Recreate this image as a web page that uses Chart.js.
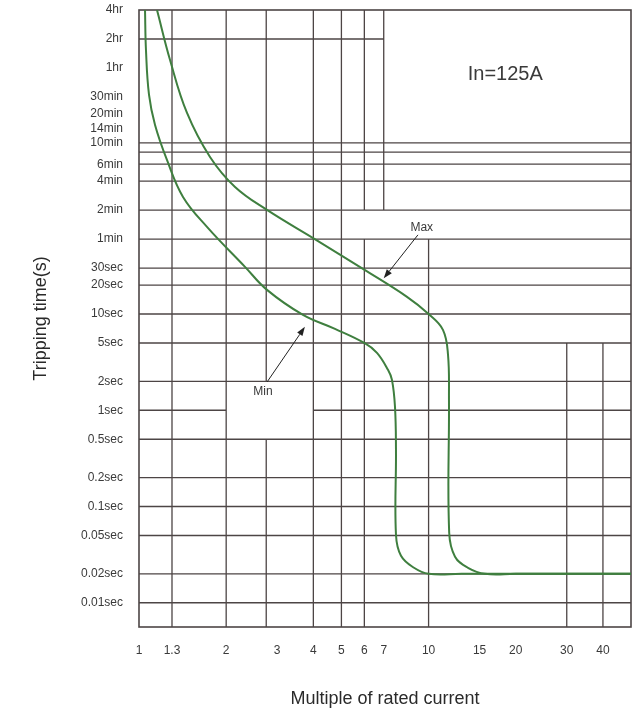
<!DOCTYPE html>
<html>
<head>
<meta charset="utf-8">
<script src="https://cdn.jsdelivr.net/npm/chart.js@4.4.1/dist/chart.umd.min.js"></script>
<style>
  html, body { margin: 0; padding: 0; background: #fff; }
  #wrap { width: 642px; height: 716px; }
</style>
</head>
<body>
<div id="wrap"><canvas id="chart"></canvas></div>
<script>
// Multiple of rated current (x axis, log)
const xTicks = [1, 1.3, 2, 3, 4, 5, 6, 7, 10, 15, 20, 30, 40];
const xMin = 1;
const xMax = 50;

// Tripping time in seconds (y axis, log) and the printed labels
const yTicks = [0.01, 0.02, 0.05, 0.1, 0.2, 0.5, 1, 2, 5, 10, 20, 30, 60, 120, 240, 360, 600, 840, 1200, 1800, 3600, 7200, 14400];
const yLabels = ["0.01sec", "0.02sec", "0.05sec", "0.1sec", "0.2sec", "0.5sec", "1sec", "2sec", "5sec", "10sec", "20sec", "30sec",
                 "1min", "2min", "4min", "6min", "10min", "14min", "20min", "30min", "1hr", "2hr", "4hr"];
const yMin = 0.0056;
const yMax = 14400;

// Min curve (multiple, seconds)
const minX = [1.049, 1.057, 1.083, 1.136, 1.249, 1.419, 1.717, 2.323, 2.767, 3.684, 4.751, 6.0,
              6.634, 7.241, 7.474, 7.656, 7.716, 7.716, 8.03, 8.905, 10, 13, 50];
const minT = [14400, 5533, 1887, 921, 399, 164.6, 80.4, 30.9, 17.81, 9.8, 7.01, 5.0,
              3.95, 2.63, 2.07, 1.085, 0.388, 0.0509, 0.0308, 0.0231, 0.02, 0.02, 0.02];

// Max curve (multiple, seconds)
const maxX = [1.154, 1.28, 1.465, 1.759, 2.146, 2.767, 4.086, 5.935, 8.423, 10,
              11.21, 11.67, 11.76, 11.78, 12.34, 13.68, 15.66, 20, 50];
const maxT = [14400, 4357, 1226, 428, 209, 120.6, 58.9, 29.4, 15.07, 10,
              6.85, 3.77, 1.284, 0.0533, 0.0301, 0.0231, 0.02, 0.02, 0.02];

// Grid segments as printed: horizontal [time, fromX, toX], vertical [multiple, fromT, toT]
const hGrid = [
  [7200, 1, 7],
  [600, 1, 50], [480, 1, 50], [360, 1, 50], [240, 1, 50], [120, 1, 50], [60, 1, 50],
  [30, 1, 50], [20, 1, 50], [10, 1, 50], [5, 1, 50], [2, 1, 50],
  [1, 1, 2], [1, 4, 50],
  [0.5, 1, 50], [0.2, 1, 50], [0.1, 1, 50], [0.05, 1, 50], [0.02, 1, 50], [0.01, 1, 50]
];
const vGrid = [
  [1.3, yMin, yMax], [2, yMin, yMax],
  [2.75, 2, yMax], [2.75, yMin, 0.5],
  [4, yMin, yMax], [5, yMin, yMax],
  [6, 120, yMax], [6, yMin, 60],
  [7, 120, yMax],
  [10, yMin, 60],
  [30, yMin, 5], [40, yMin, 5]
];

const gridColor = "#4d4545";
const curveColor = "#3f7f3f";
const textColor = "#3a3a3a";
const fontFamily = "'Liberation Sans', Arial, Helvetica, sans-serif";

// text notes and arrows on the plot
const notes = [
  { text: "In=125A", x: 18.4, t: 3044, size: 20 },
  { text: "Max", x: 9.47, t: 78, size: 12 },
  { text: "Min", x: 2.68, t: 1.55, size: 12 }
];
const arrows = [
  { from: [9.19, 66.4], to: [7.0, 23.5] },
  { from: [2.77, 1.97], to: [3.74, 7.35] }
];

const gridPlugin = {
  id: "printedGrid",
  beforeDatasetsDraw(chart) {
    const { ctx, chartArea } = chart;
    const xs = chart.scales.x, ys = chart.scales.y;
    ctx.save();
    ctx.strokeStyle = gridColor;
    ctx.lineWidth = 1.3;
    ctx.beginPath();
    hGrid.forEach(([t, a, b]) => {
      const py = ys.getPixelForValue(t);
      ctx.moveTo(xs.getPixelForValue(a), py);
      ctx.lineTo(xs.getPixelForValue(b), py);
    });
    vGrid.forEach(([x, a, b]) => {
      const px = xs.getPixelForValue(x);
      ctx.moveTo(px, ys.getPixelForValue(a));
      ctx.lineTo(px, ys.getPixelForValue(b));
    });
    ctx.stroke();
    ctx.lineWidth = 1.6;
    ctx.strokeRect(chartArea.left, chartArea.top, chartArea.right - chartArea.left, chartArea.bottom - chartArea.top);
    ctx.restore();
  },
  afterDatasetsDraw(chart) {
    const { ctx } = chart;
    const xs = chart.scales.x, ys = chart.scales.y;
    ctx.save();
    ctx.fillStyle = textColor;
    ctx.textAlign = "center";
    ctx.textBaseline = "middle";
    notes.forEach(n => {
      ctx.font = n.size + "px " + fontFamily;
      ctx.fillText(n.text, xs.getPixelForValue(n.x), ys.getPixelForValue(n.t));
    });
    ctx.strokeStyle = "#222";
    ctx.fillStyle = "#222";
    ctx.lineWidth = 1;
    arrows.forEach(a => {
      const x1 = xs.getPixelForValue(a.from[0]), y1 = ys.getPixelForValue(a.from[1]);
      const x2 = xs.getPixelForValue(a.to[0]), y2 = ys.getPixelForValue(a.to[1]);
      const ang = Math.atan2(y2 - y1, x2 - x1);
      const len = 9, half = 3.2;
      const bx = x2 - len * Math.cos(ang), by = y2 - len * Math.sin(ang);
      ctx.beginPath();
      ctx.moveTo(x1, y1);
      ctx.lineTo(bx, by);
      ctx.stroke();
      ctx.beginPath();
      ctx.moveTo(x2, y2);
      ctx.lineTo(bx + half * Math.sin(ang), by - half * Math.cos(ang));
      ctx.lineTo(bx - half * Math.sin(ang), by + half * Math.cos(ang));
      ctx.closePath();
      ctx.fill();
    });
    ctx.restore();
  }
};

const toPoints = (xs, ts) => xs.map((x, i) => ({ x: x, y: ts[i] }));

new Chart(document.getElementById("chart"), {
  type: "line",
  data: {
    datasets: [
      {
        label: "Min",
        data: toPoints(minX, minT),
        borderColor: curveColor,
        borderWidth: 2,
        pointRadius: 0,
        tension: 0.4,
        fill: false
      },
      {
        label: "Max",
        data: toPoints(maxX, maxT),
        borderColor: curveColor,
        borderWidth: 2,
        pointRadius: 0,
        tension: 0.4,
        fill: false
      }
    ]
  },
  options: {
    responsive: true,
    maintainAspectRatio: false,
    animation: false,
    layout: { padding: { top: 10, right: 11, left: 0, bottom: 0 } },
    plugins: {
      legend: { display: false },
      tooltip: { enabled: false }
    },
    scales: {
      x: {
        type: "logarithmic",
        min: xMin,
        max: xMax,
        grid: { display: false, drawTicks: false },
        border: { display: false },
        afterFit: s => { s.height = 89; s.paddingLeft = 0; s.paddingRight = 0; },
        afterBuildTicks: s => { s.ticks = xTicks.map(v => ({ value: v })); },
        ticks: {
          autoSkip: false,
          maxRotation: 0,
          padding: 16,
          color: textColor,
          font: { family: fontFamily, size: 12 },
          callback: (v, i) => String(xTicks[i])
        },
        title: {
          display: true,
          text: "Multiple of rated current",
          color: "#2a2a2a",
          font: { family: fontFamily, size: 18 },
          padding: { top: 0, bottom: 6 }
        }
      },
      y: {
        type: "logarithmic",
        min: yMin,
        max: yMax,
        grid: { display: false, drawTicks: false },
        border: { display: false },
        afterFit: s => { s.width = 139; s.paddingTop = 0; s.paddingBottom = 0; },
        afterBuildTicks: s => { s.ticks = yTicks.map(v => ({ value: v })); },
        ticks: {
          autoSkip: false,
          padding: 16,
          color: textColor,
          font: { family: fontFamily, size: 12 },
          callback: (v, i) => yLabels[i]
        },
        title: {
          display: true,
          text: "Tripping time(s)",
          color: "#2a2a2a",
          font: { family: fontFamily, size: 18 },
          padding: { top: 30, bottom: 0 }
        }
      }
    }
  },
  plugins: [gridPlugin]
});
</script>
</body>
</html>
